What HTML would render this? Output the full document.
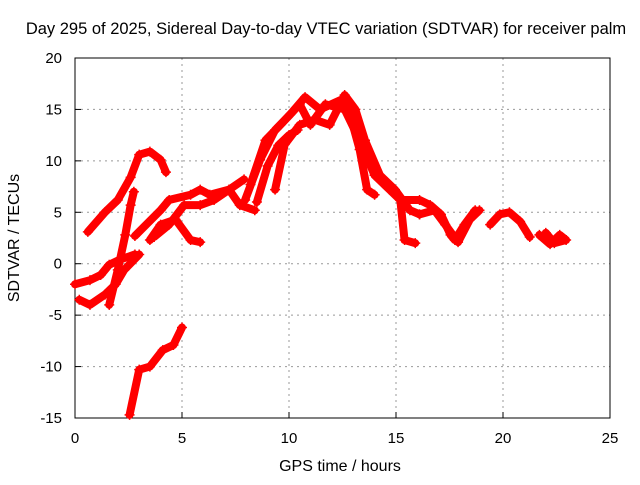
<!DOCTYPE html>
<html><head><meta charset="utf-8"><style>
body{margin:0;background:#fff}
svg text{font-family:"Liberation Sans",sans-serif;font-size:15px;fill:#000}
</style></head><body>
<svg id="chart" width="640" height="480" viewBox="0 0 640 480" xmlns="http://www.w3.org/2000/svg">
<text x="326" y="34" text-anchor="middle" style="font-size:16.5px">Day 295 of 2025, Sidereal Day-to-day VTEC variation (SDTVAR) for receiver palm</text>
<g id="grid"></g>
<g id="ticks"></g>
<rect x="75" y="58" width="535" height="360" fill="none" stroke="#000" stroke-width="1"/>
<g id="series"></g>
<text x="340" y="471" text-anchor="middle" style="font-size:16px">GPS time / hours</text>
<text x="0" y="0" text-anchor="middle" transform="translate(19,238) rotate(-90)" style="font-size:16px">SDTVAR / TECUs</text>
</svg>
<script>
const xTicks=[0,5,10,15,20,25];
const yTicks=[-15,-10,-5,0,5,10,15,20];
const s1h=[0.6,1.4,2.0,2.6,3.0,3.5,4.0,4.25];
const s1v=[3.1,5.0,6.2,8.4,10.6,10.9,10.1,8.9];
const s2h=[1.6,2.0,2.35,2.6,2.75];
const s2v=[-4.0,-0.6,2.8,5.7,7.0];
const s3h=[0,0.7,1.2,1.6,2.1,2.8];
const s3v=[-2.0,-1.6,-1.1,-0.1,0.4,0.9];
const s4h=[0.2,0.7,1.4,1.9,2.3,3.0];
const s4v=[-3.5,-4.0,-3.0,-2.0,-0.6,0.9];
const s5h=[2.55,3.0,3.5,4.1,4.6,5.0];
const s5v=[-14.7,-10.3,-10.0,-8.4,-7.9,-6.2];
const s6h=[2.8,4.0,4.4,5.4,5.85,6.3,7.2,7.7,8.4];
const s6v=[2.7,5.2,6.2,6.7,7.2,6.7,7.2,5.7,5.2];
const s7h=[3.5,4.0,4.7,5.4,5.85];
const s7v=[2.3,3.8,4.3,2.3,2.1];
const s8h=[3.7,4.4,5.1,5.85,6.5,7.2,7.9];
const s8v=[2.6,3.8,5.7,5.7,6.2,7.2,8.2];
const a1h=[7.95,8.65,9.35,10.05,10.75,11.45,12.4,12.85,13.3,13.65,14.0];
const a1v=[6.2,10.1,13.0,14.5,16.2,15.0,15.9,14.5,11.1,7.2,6.7];
const a2h=[8.2,8.9,9.6,10.5,11.0,11.7,12.6,13.3,14.0,14.7,15.2,15.4,15.9];
const a2v=[7.7,12.0,13.5,15.5,13.5,15.5,15.0,12.0,8.6,7.2,6.2,2.3,2.0];
const a3h=[9.35,9.8,10.5,11.2,11.9,12.6,13.1,13.55,14.25,14.95,15.65,16.1];
const a3v=[7.2,11.6,13.5,14.0,13.5,16.4,15.0,12.0,8.6,7.2,5.2,4.8];
const a4h=[8.5,9.0,9.5,10.0,10.4];
const a4v=[6.0,9.5,11.5,12.5,13.0];
const r1h=[15.2,16.1,16.6,17.1,17.55,17.75,18.2,18.7];
const r1v=[6.2,6.2,5.7,4.8,2.8,2.3,3.8,5.2];
const r2h=[16.1,16.8,17.3,17.9,18.45,18.9];
const r2v=[4.8,5.2,3.8,2.1,4.3,5.2];
const r3h=[19.4,19.85,20.3,20.8,21.25];
const r3v=[3.8,4.8,5.0,4.1,2.6];
const r4h=[21.7,22.2,22.65,22.95,22.4,22.0];
const r4v=[2.8,1.9,2.8,2.3,2.0,3.0];
const seriesH=[s1h,s2h,s3h,s4h,s5h,s6h,s7h,s8h,a1h,a2h,a3h,a4h,r1h,r2h,r3h,r4h];
const seriesV=[s1v,s2v,s3v,s4v,s5v,s6v,s7v,s8v,a1v,a2v,a3v,a4v,r1v,r2v,r3v,r4v];
const NS="http://www.w3.org/2000/svg";
const X0=75,X1=610,Y0=418,Y1=58;
function xs(h){return X0+(h-0)/(25-0)*(X1-X0);}
function ys(v){return Y0-(v+15)/(20+15)*(Y0-Y1);}
const grid=document.getElementById('grid'),ticks=document.getElementById('ticks'),ser=document.getElementById('series');
function mk(t,a,p){const e=document.createElementNS(NS,t);for(const k in a)e.setAttribute(k,a[k]);p.appendChild(e);return e;}
xTicks.forEach(t=>{const x=xs(t);
 if(t>0&&t<25){const g=mk('line',{x1:x,x2:x,y1:Y1,y2:Y0,stroke:'#999','stroke-dasharray':'2,4'},grid);
 
 }
 const l=mk('text',{x:x,y:443,'text-anchor':'middle'},ticks);l.textContent=t;
 
 
 const m=mk('line',{x1:x,x2:x,y1:Y0,y2:Y0-6,stroke:'#000'},ticks);
 
 
});
yTicks.forEach(t=>{const y=ys(t);
 if(t>-15&&t<20){const g=mk('line',{x1:X0,x2:X1,y1:y,y2:y,stroke:'#999','stroke-dasharray':'2,4'},grid);
 
 }
 const l=mk('text',{x:62,y:y+5,'text-anchor':'end'},ticks);l.textContent=t;
 
 
 const m=mk('line',{x1:X0,x2:X0+6,y1:y,y2:y,stroke:'#000'},ticks);
 
 
});
seriesH.forEach((H,i)=>{const V=seriesV[i];
 const pts=H.map((h,j)=>xs(h)+','+ys(V[j])).join(' ');
 const p=mk('polyline',{points:pts,fill:'none',stroke:'#f00','stroke-width':8,'stroke-linejoin':'round','stroke-linecap':'round'},ser);
 
 
 H.forEach((h,j)=>{const x=xs(h),y=ys(V[j]);
  const m=mk('path',{d:`M${x-5},${y}H${x+5}M${x},${y-5}V${y+5}`,stroke:'#f00','stroke-width':1.5},ser);
  
  
 });
});
</script>
</body></html>
